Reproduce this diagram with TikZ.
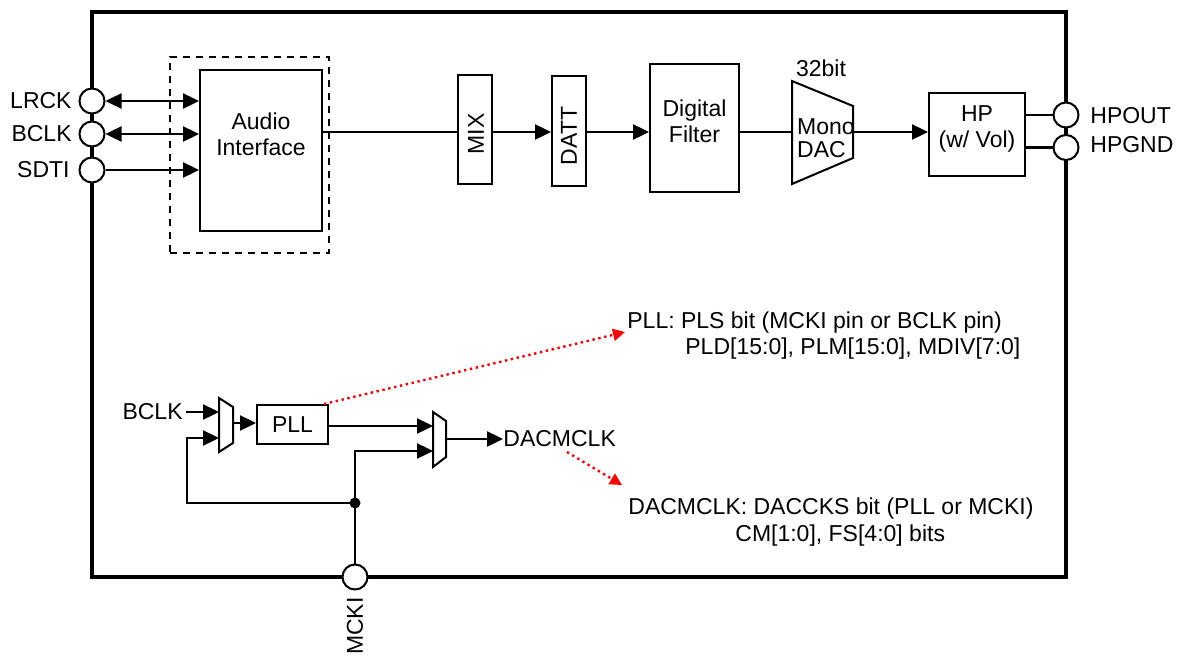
\documentclass[tikz,border=0pt]{standalone}
\usepackage{fontspec}
\setmainfont{Liberation Sans}
\usetikzlibrary{arrows.meta,calc}
\begin{document}
\begin{tikzpicture}[x=0.5pt,y=-0.5pt,
  every node/.style={font=\fontsize{11.5pt}{13.2pt}\selectfont, inner sep=0pt},
  blk/.style={draw, line width=1pt},
  pin/.style={draw, fill=white, circle, line width=1pt, minimum size=12.5pt},
  wire/.style={line width=1.2pt},
  arr/.style={line width=1.2pt, -{Triangle[length=8pt,width=7.5pt]}},
  darr/.style={line width=1.2pt, {Triangle[length=8pt,width=7.5pt]}-{Triangle[length=8pt,width=7.5pt]}},
  note/.style={red, line width=1.2pt, dash pattern=on 1.2pt off 1.8pt, -{Triangle[length=6pt,width=6pt]}},
]
\useasboundingbox (0,0) rectangle (1180,659);

% chip frame
\draw[line width=2pt] (92,12) rectangle (1066,577);

% left pins
\node[pin] (plrck) at (92,101) {};
\node[pin] (pbclk) at (92,134) {};
\node[pin] (psdti) at (92,170) {};
\node[anchor=east] (llrck) at (72,101) {LRCK};
\node[anchor=east] (lbclk) at (72,134) {BCLK};
\node[anchor=east] (lsdti) at (70,170) {SDTI};

% audio interface
\node[draw, line width=1pt, dash pattern=on 3.5pt off 3pt, minimum width=79.5pt, minimum height=98pt] (aig) at (249.5,155) {};
\node[blk, fill=white, minimum width=61pt, minimum height=80.5pt] (ai) at (261,150.5) {};
\node[align=center] (ait) at (261,134) {Audio\\Interface};

\draw[darr] (plrck.east) -- (ai.west |- plrck.east);
\draw[darr] (pbclk.east) -- (ai.west |- pbclk.east);
\draw[arr] (psdti.east) -- (ai.west |- psdti.east);

% signal chain
\coordinate (sig) at (0,132);
\node[blk, minimum width=17pt, minimum height=54.5pt] (mix) at (475,129.5) {};
\node[rotate=90] (mixt) at (476,134) {MIX};
\node[blk, minimum width=17pt, minimum height=55pt] (datt) at (569,131) {};
\node[rotate=90] (dattt) at (569,136) {DATT};
\node[blk, minimum width=44.5pt, minimum height=64pt] (filt) at (694.5,128) {};
\node[align=center] (filtt) at (694.5,121.5) {Digital\\Filter};

\coordinate (dacL) at (792,132);
\coordinate (dacR) at (853,132);
\draw[line width=1pt] (792,81) -- (853,106) -- (853,158) -- (792,184) -- cycle;
\node[align=left, font=\fontsize{11.5pt}{11.5pt}\selectfont] (dact) at (826,138.5) {Mono\\DAC};
\node (b32) at (821,68) {32bit};

\node[blk, minimum width=48pt, minimum height=41.5pt] (hp) at (977,134.5) {};
\node[align=center] (hpt) at (977,129) {HP\\(w/ Vol)};

\draw[wire] (ai.east |- sig) -- (mix.west |- sig);
\draw[arr] (mix.east |- sig) -- (datt.west |- sig);
\draw[arr] (datt.east |- sig) -- (filt.west |- sig);
\draw[wire] (filt.east |- sig) -- (dacL);
\draw[arr] (dacR) -- (hp.west |- sig);

% right pins
\node[pin] (phpout) at (1066,115) {};
\node[pin] (phpgnd) at (1066,147.5) {};
\draw[wire] (hp.east |- phpout) -- (phpout.west);
\draw[wire] (hp.east |- phpgnd) -- (phpgnd.west);
\node[anchor=west] (lhpout) at (1090,116) {HPOUT};
\node[anchor=west] (lhpgnd) at (1090,145) {HPGND};

% clock section
\node[anchor=east] (bclk2) at (183,412) {BCLK};
\draw[line width=1pt] (219,398) -- (233,407) -- (233,443) -- (219,452) -- cycle;
\coordinate (m1in1) at (219,412);
\coordinate (m1in2) at (219,438);
\coordinate (m1out) at (233,423);

\node[blk, minimum width=35.5pt, minimum height=19.5pt] (pll) at (292.5,424.5) {PLL};

\draw[line width=1pt] (433,412) -- (446,421) -- (446,457) -- (433,467) -- cycle;
\coordinate (m2in1) at (433,426);
\coordinate (m2in2) at (433,451);
\coordinate (m2out) at (446,439);

\node[anchor=west] (dacl) at (503,439) {DACMCLK};

\draw[arr, shorten <=1.5pt] (bclk2.east) -- (m1in1);
\draw[arr] (m1out) -- (pll.west |- m1out);
\draw[arr] (pll.east |- m2in1) -- (m2in1);
\draw[arr] (m2out) -- (dacl.west);

\node[pin] (mcki) at (355,577) {};
\node[rotate=90, anchor=east] (mckil) at (355,597) {MCKI};
\coordinate (jn) at (355,503);
\coordinate (lp) at (187,503);
\draw[arr] (mcki.north) -- (jn) |- (m2in2);
\draw[arr] (jn) -- (lp) |- (m1in2);
\fill (jn) circle (5.5);

% notes
\node[anchor=base west] (n1a) at (627,328) {PLL: PLS bit (MCKI pin or BCLK pin)};
\node[anchor=base west] (n1b) at (685,354) {PLD[15:0], PLM[15:0], MDIV[7:0]};
\node[anchor=base west] (n2a) at (628,514) {DACMCLK: DACCKS bit (PLL or MCKI)};
\node[anchor=base west] (n2b) at (735,541) {CM[1:0], FS[4:0] bits};
\coordinate (t1) at (625,332);
\coordinate (s2) at (567,452);
\coordinate (t2) at (622,485);
\draw[note] ($(pll.north east)+(-5,0)$) -- (t1);
\draw[note] (s2) -- (t2);
\end{tikzpicture}
\end{document}
